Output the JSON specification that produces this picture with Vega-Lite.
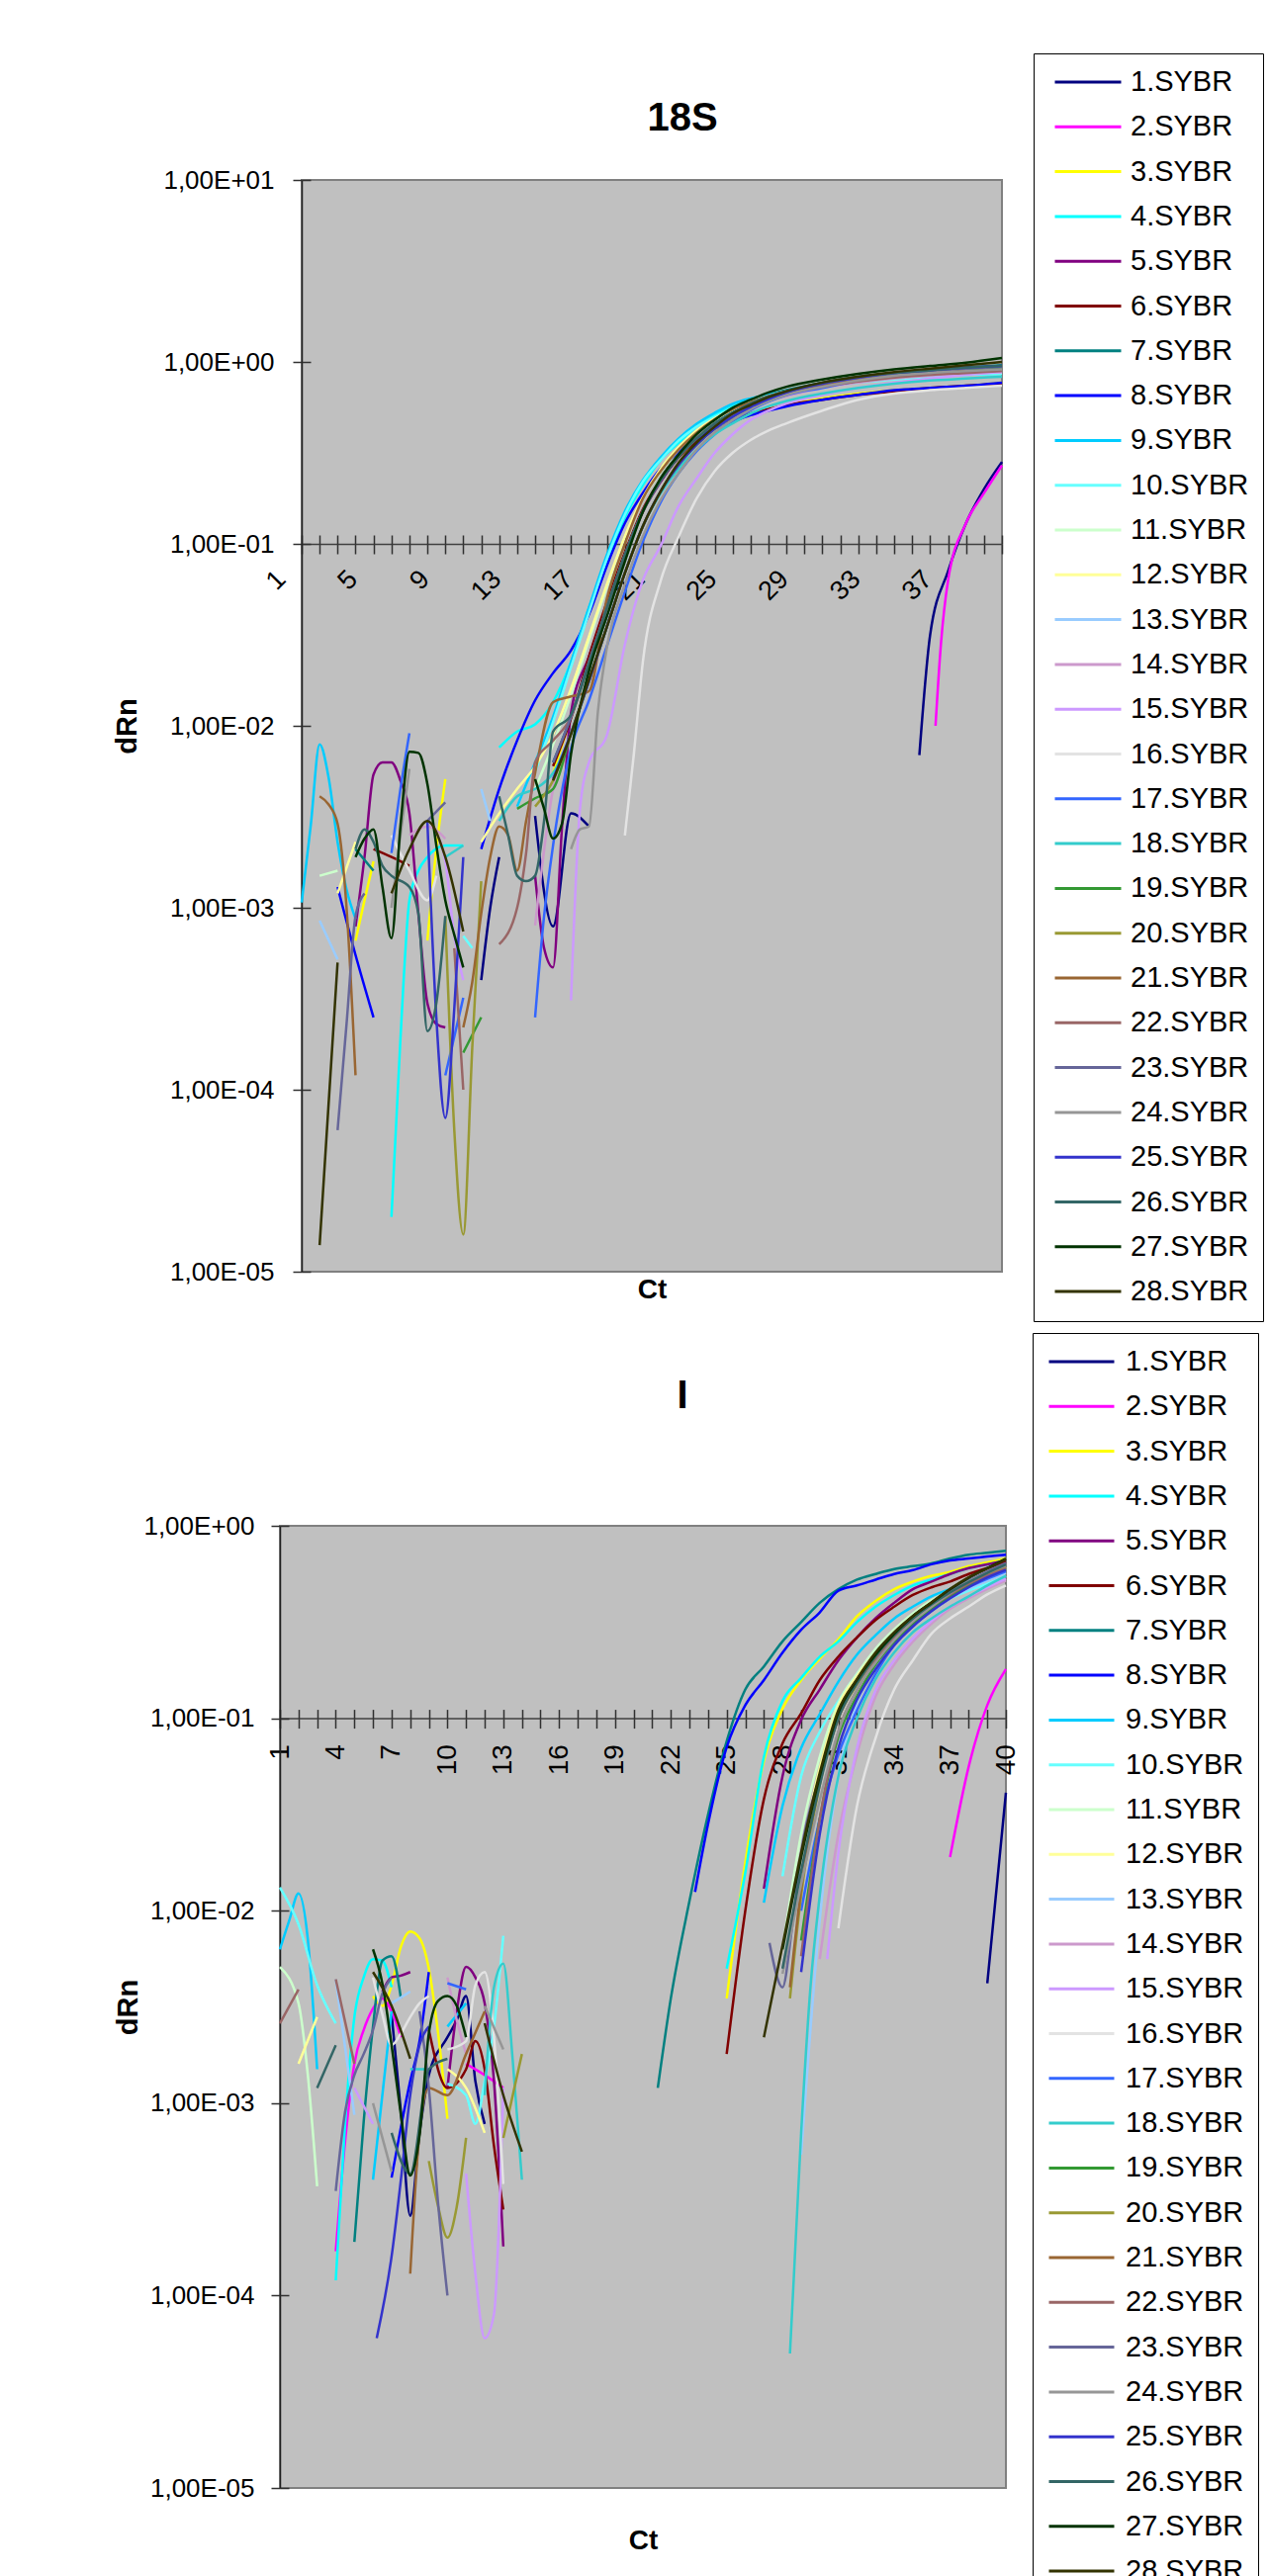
{
"$schema":"https://vega.github.io/schema/vega-lite/v6.json",
"background":"white",
"padding":{"left":113,"top":52,"right":0,"bottom":0},
"datasets":{
"t":[
{"s":1,"c":11,"v":0.0004},{"s":1,"c":11.5,"v":0.001},{"s":1,"c":12,"v":0.0019},{"s":1,"c":13,"v":null},{"s":1,"c":14,"v":0.0032},{"s":1,"c":15,"v":0.00079},{"s":1,"c":16,"v":0.0033},{"s":1,"c":17,"v":0.0028},{"s":1,"c":18,"v":null},{"s":1,"c":35.4,"v":0.0069},{"s":1,"c":36,"v":0.0316},{"s":1,"c":37,"v":0.0708},{"s":1,"c":38,"v":0.13},{"s":1,"c":39,"v":0.2},{"s":1,"c":40,"v":0.282},
{"s":2,"c":36.3,"v":0.01},{"s":2,"c":36.6,"v":0.028},{"s":2,"c":37,"v":0.063},{"s":2,"c":38,"v":0.13},{"s":2,"c":39,"v":0.19},{"s":2,"c":40,"v":0.27},
{"s":3,"c":4,"v":0.00066},{"s":3,"c":4.5,"v":0.0011},{"s":3,"c":5,"v":0.0018},{"s":3,"c":5.5,"v":null},{"s":3,"c":8,"v":0.00066},{"s":3,"c":8.5,"v":0.0021},{"s":3,"c":9,"v":0.0051},{"s":3,"c":9.5,"v":null},{"s":3,"c":15,"v":0.0055},{"s":3,"c":16,"v":0.0112},{"s":3,"c":17,"v":0.0224},{"s":3,"c":18,"v":0.0447},{"s":3,"c":19,"v":0.0871},{"s":3,"c":20,"v":0.151},{"s":3,"c":21,"v":0.224},{"s":3,"c":22,"v":0.3},{"s":3,"c":23,"v":0.37},{"s":3,"c":24,"v":0.43},{"s":3,"c":25,"v":0.48},{"s":3,"c":26,"v":0.52},{"s":3,"c":27,"v":0.55},{"s":3,"c":28,"v":0.58},{"s":3,"c":30,"v":0.63},{"s":3,"c":32,"v":0.67},{"s":3,"c":34,"v":0.7},{"s":3,"c":36,"v":0.72},{"s":3,"c":38,"v":0.74},{"s":3,"c":40,"v":0.77},
{"s":4,"c":6,"v":0.00002},{"s":4,"c":6.5,"v":0.00019},{"s":4,"c":7,"v":0.0011},{"s":4,"c":7.5,"v":0.0016},{"s":4,"c":8,"v":0.0019},{"s":4,"c":9,"v":0.0022},{"s":4,"c":10,"v":0.0022},{"s":4,"c":10.5,"v":null},{"s":4,"c":12,"v":0.0076},{"s":4,"c":13,"v":0.0093},{"s":4,"c":14,"v":0.0102},{"s":4,"c":15,"v":0.0135},{"s":4,"c":16,"v":0.0224},{"s":4,"c":17,"v":0.0447},{"s":4,"c":18,"v":0.08},{"s":4,"c":19,"v":0.14},{"s":4,"c":20,"v":0.21},{"s":4,"c":21,"v":0.29},{"s":4,"c":22,"v":0.36},{"s":4,"c":23,"v":0.44},{"s":4,"c":24,"v":0.51},{"s":4,"c":25,"v":0.57},{"s":4,"c":26,"v":0.62},{"s":4,"c":27,"v":0.66},{"s":4,"c":28,"v":0.69},{"s":4,"c":30,"v":0.74},{"s":4,"c":32,"v":0.78},{"s":4,"c":34,"v":0.81},{"s":4,"c":36,"v":0.83},{"s":4,"c":38,"v":0.85},{"s":4,"c":40,"v":0.86},
{"s":5,"c":4,"v":0.00079},{"s":5,"c":4.5,"v":0.0019},{"s":5,"c":5,"v":0.0054},{"s":5,"c":5.5,"v":0.0063},{"s":5,"c":6,"v":0.0063},{"s":5,"c":6.5,"v":0.005},{"s":5,"c":7,"v":0.0033},{"s":5,"c":7.5,"v":0.00093},{"s":5,"c":8,"v":0.0003},{"s":5,"c":8.5,"v":0.00023},{"s":5,"c":9,"v":0.00022},{"s":5,"c":9.5,"v":null},{"s":5,"c":14,"v":0.0015},{"s":5,"c":14.5,"v":0.0006},{"s":5,"c":15,"v":0.00047},{"s":5,"c":15.5,"v":0.0028},{"s":5,"c":16,"v":0.0118},{"s":5,"c":17,"v":0.024},{"s":5,"c":18,"v":0.045},{"s":5,"c":19,"v":0.085},{"s":5,"c":20,"v":0.15},{"s":5,"c":21,"v":0.22},{"s":5,"c":22,"v":0.3},{"s":5,"c":23,"v":0.38},{"s":5,"c":24,"v":0.45},{"s":5,"c":25,"v":0.52},{"s":5,"c":26,"v":0.58},{"s":5,"c":27,"v":0.63},{"s":5,"c":28,"v":0.67},{"s":5,"c":30,"v":0.73},{"s":5,"c":32,"v":0.78},{"s":5,"c":34,"v":0.82},{"s":5,"c":36,"v":0.85},{"s":5,"c":38,"v":0.87},{"s":5,"c":40,"v":0.89},
{"s":6,"c":5,"v":0.0021},{"s":6,"c":6,"v":0.0019},{"s":6,"c":7,"v":0.0017},{"s":6,"c":7.5,"v":null},{"s":6,"c":15,"v":0.006},{"s":6,"c":16,"v":0.011},{"s":6,"c":17,"v":0.024},{"s":6,"c":18,"v":0.048},{"s":6,"c":19,"v":0.09},{"s":6,"c":20,"v":0.155},{"s":6,"c":21,"v":0.225},{"s":6,"c":22,"v":0.3},{"s":6,"c":23,"v":0.37},{"s":6,"c":24,"v":0.43},{"s":6,"c":25,"v":0.48},{"s":6,"c":26,"v":0.52},{"s":6,"c":27,"v":0.55},{"s":6,"c":28,"v":0.58},{"s":6,"c":30,"v":0.62},{"s":6,"c":32,"v":0.66},{"s":6,"c":34,"v":0.69},{"s":6,"c":36,"v":0.72},{"s":6,"c":38,"v":0.74},{"s":6,"c":40,"v":0.76},
{"s":7,"c":4,"v":0.0021},{"s":7,"c":5,"v":0.0016},{"s":7,"c":5.5,"v":null},{"s":7,"c":15,"v":0.0063},{"s":7,"c":16,"v":0.0112},{"s":7,"c":17,"v":0.0224},{"s":7,"c":18,"v":0.0447},{"s":7,"c":19,"v":0.0871},{"s":7,"c":20,"v":0.151},{"s":7,"c":21,"v":0.224},{"s":7,"c":22,"v":0.302},{"s":7,"c":23,"v":0.38},{"s":7,"c":24,"v":0.46},{"s":7,"c":25,"v":0.53},{"s":7,"c":26,"v":0.6},{"s":7,"c":27,"v":0.66},{"s":7,"c":28,"v":0.7},{"s":7,"c":30,"v":0.77},{"s":7,"c":32,"v":0.83},{"s":7,"c":34,"v":0.87},{"s":7,"c":36,"v":0.9},{"s":7,"c":38,"v":0.93},{"s":7,"c":40,"v":0.96},
{"s":8,"c":3,"v":0.0013},{"s":8,"c":4,"v":0.00055},{"s":8,"c":5,"v":0.00025},{"s":8,"c":5.5,"v":null},{"s":8,"c":11,"v":0.0021},{"s":8,"c":12,"v":0.0045},{"s":8,"c":13,"v":0.0083},{"s":8,"c":14,"v":0.0138},{"s":8,"c":15,"v":0.0195},{"s":8,"c":16,"v":0.026},{"s":8,"c":17,"v":0.041},{"s":8,"c":18,"v":0.076},{"s":8,"c":19,"v":0.13},{"s":8,"c":20,"v":0.19},{"s":8,"c":21,"v":0.26},{"s":8,"c":22,"v":0.32},{"s":8,"c":23,"v":0.38},{"s":8,"c":24,"v":0.43},{"s":8,"c":25,"v":0.47},{"s":8,"c":26,"v":0.51},{"s":8,"c":27,"v":0.54},{"s":8,"c":28,"v":0.57},{"s":8,"c":30,"v":0.62},{"s":8,"c":32,"v":0.66},{"s":8,"c":34,"v":0.7},{"s":8,"c":36,"v":0.72},{"s":8,"c":38,"v":0.74},{"s":8,"c":40,"v":0.77},
{"s":9,"c":1,"v":0.00107},{"s":9,"c":1.5,"v":0.0028},{"s":9,"c":2,"v":0.0079},{"s":9,"c":2.5,"v":0.0052},{"s":9,"c":3,"v":0.0023},{"s":9,"c":3.5,"v":0.00126},{"s":9,"c":4,"v":0.00087},{"s":9,"c":4.5,"v":null},{"s":9,"c":13,"v":0.0036},{"s":9,"c":14,"v":0.0063},{"s":9,"c":15,"v":0.0112},{"s":9,"c":16,"v":0.0224},{"s":9,"c":17,"v":0.0447},{"s":9,"c":18,"v":0.0871},{"s":9,"c":19,"v":0.151},{"s":9,"c":20,"v":0.224},{"s":9,"c":21,"v":0.3},{"s":9,"c":22,"v":0.38},{"s":9,"c":23,"v":0.457},{"s":9,"c":24,"v":0.525},{"s":9,"c":25,"v":0.589},{"s":9,"c":26,"v":0.63},{"s":9,"c":27,"v":0.66},{"s":9,"c":28,"v":0.69},{"s":9,"c":30,"v":0.74},{"s":9,"c":32,"v":0.78},{"s":9,"c":34,"v":0.81},{"s":9,"c":36,"v":0.84},{"s":9,"c":38,"v":0.86},{"s":9,"c":40,"v":0.88},
{"s":10,"c":10,"v":0.0007},{"s":10,"c":10.5,"v":0.0006},{"s":10,"c":11,"v":null},{"s":10,"c":14,"v":0.0056},{"s":10,"c":15,"v":0.0105},{"s":10,"c":16,"v":0.021},{"s":10,"c":17,"v":0.042},{"s":10,"c":18,"v":0.083},{"s":10,"c":19,"v":0.145},{"s":10,"c":20,"v":0.22},{"s":10,"c":21,"v":0.29},{"s":10,"c":22,"v":0.37},{"s":10,"c":23,"v":0.44},{"s":10,"c":24,"v":0.5},{"s":10,"c":25,"v":0.56},{"s":10,"c":26,"v":0.61},{"s":10,"c":27,"v":0.65},{"s":10,"c":28,"v":0.68},{"s":10,"c":30,"v":0.73},{"s":10,"c":32,"v":0.77},{"s":10,"c":34,"v":0.8},{"s":10,"c":36,"v":0.83},{"s":10,"c":38,"v":0.85},{"s":10,"c":40,"v":0.86},
{"s":11,"c":2,"v":0.0015},{"s":11,"c":3,"v":0.0016},{"s":11,"c":3.5,"v":null},{"s":11,"c":14,"v":0.0045},{"s":11,"c":15,"v":0.0079},{"s":11,"c":16,"v":0.0148},{"s":11,"c":17,"v":0.0295},{"s":11,"c":18,"v":0.058},{"s":11,"c":19,"v":0.109},{"s":11,"c":20,"v":0.177},{"s":11,"c":21,"v":0.25},{"s":11,"c":22,"v":0.33},{"s":11,"c":23,"v":0.41},{"s":11,"c":24,"v":0.48},{"s":11,"c":25,"v":0.55},{"s":11,"c":26,"v":0.6},{"s":11,"c":27,"v":0.65},{"s":11,"c":28,"v":0.69},{"s":11,"c":30,"v":0.75},{"s":11,"c":32,"v":0.8},{"s":11,"c":34,"v":0.84},{"s":11,"c":36,"v":0.87},{"s":11,"c":38,"v":0.89},{"s":11,"c":40,"v":0.9},
{"s":12,"c":3,"v":0.0012},{"s":12,"c":4,"v":0.0023},{"s":12,"c":4.5,"v":null},{"s":12,"c":11,"v":0.0023},{"s":12,"c":12,"v":0.0033},{"s":12,"c":13,"v":0.0045},{"s":12,"c":14,"v":0.006},{"s":12,"c":15,"v":0.009},{"s":12,"c":16,"v":0.016},{"s":12,"c":17,"v":0.031},{"s":12,"c":18,"v":0.06},{"s":12,"c":19,"v":0.11},{"s":12,"c":20,"v":0.18},{"s":12,"c":21,"v":0.26},{"s":12,"c":22,"v":0.34},{"s":12,"c":23,"v":0.42},{"s":12,"c":24,"v":0.49},{"s":12,"c":25,"v":0.55},{"s":12,"c":26,"v":0.6},{"s":12,"c":27,"v":0.64},{"s":12,"c":28,"v":0.68},{"s":12,"c":30,"v":0.74},{"s":12,"c":32,"v":0.79},{"s":12,"c":34,"v":0.82},{"s":12,"c":36,"v":0.85},{"s":12,"c":38,"v":0.87},{"s":12,"c":40,"v":0.88},
{"s":13,"c":2,"v":0.00085},{"s":13,"c":3,"v":0.00052},{"s":13,"c":3.5,"v":null},{"s":13,"c":11,"v":0.0045},{"s":13,"c":11.5,"v":0.003},{"s":13,"c":12,"v":null},{"s":13,"c":15,"v":0.005},{"s":13,"c":16,"v":0.0091},{"s":13,"c":17,"v":0.0176},{"s":13,"c":18,"v":0.0351},{"s":13,"c":19,"v":0.069},{"s":13,"c":20,"v":0.125},{"s":13,"c":21,"v":0.195},{"s":13,"c":22,"v":0.27},{"s":13,"c":23,"v":0.35},{"s":13,"c":24,"v":0.43},{"s":13,"c":25,"v":0.5},{"s":13,"c":26,"v":0.565},{"s":13,"c":27,"v":0.625},{"s":13,"c":28,"v":0.67},{"s":13,"c":30,"v":0.74},{"s":13,"c":32,"v":0.8},{"s":13,"c":34,"v":0.84},{"s":13,"c":36,"v":0.87},{"s":13,"c":38,"v":0.9},{"s":13,"c":40,"v":0.92},
{"s":14,"c":7,"v":0.0025},{"s":14,"c":8,"v":0.0028},{"s":14,"c":9,"v":0.0024},{"s":14,"c":9.5,"v":null},{"s":14,"c":14,"v":0.0008},{"s":14,"c":15,"v":0.0045},{"s":14,"c":16,"v":0.009},{"s":14,"c":17,"v":0.0176},{"s":14,"c":18,"v":0.035},{"s":14,"c":19,"v":0.069},{"s":14,"c":20,"v":0.125},{"s":14,"c":21,"v":0.195},{"s":14,"c":22,"v":0.272},{"s":14,"c":23,"v":0.351},{"s":14,"c":24,"v":0.429},{"s":14,"c":25,"v":0.5},{"s":14,"c":26,"v":0.56},{"s":14,"c":27,"v":0.61},{"s":14,"c":28,"v":0.65},{"s":14,"c":30,"v":0.72},{"s":14,"c":32,"v":0.77},{"s":14,"c":34,"v":0.81},{"s":14,"c":36,"v":0.84},{"s":14,"c":38,"v":0.86},{"s":14,"c":40,"v":0.88},
{"s":15,"c":8.5,"v":0.0026},{"s":15,"c":9,"v":0.0018},{"s":15,"c":9.5,"v":0.0007},{"s":15,"c":10,"v":0.0004},{"s":15,"c":10.5,"v":null},{"s":15,"c":16,"v":0.00031},{"s":15,"c":16.5,"v":0.0035},{"s":15,"c":17,"v":0.0063},{"s":15,"c":18,"v":0.0089},{"s":15,"c":19,"v":0.028},{"s":15,"c":20,"v":0.063},{"s":15,"c":21,"v":0.098},{"s":15,"c":22,"v":0.162},{"s":15,"c":23,"v":0.229},{"s":15,"c":24,"v":0.316},{"s":15,"c":25,"v":0.4},{"s":15,"c":26,"v":0.48},{"s":15,"c":27,"v":0.54},{"s":15,"c":28,"v":0.59},{"s":15,"c":30,"v":0.66},{"s":15,"c":32,"v":0.72},{"s":15,"c":34,"v":0.77},{"s":15,"c":36,"v":0.81},{"s":15,"c":38,"v":0.85},{"s":15,"c":40,"v":0.88},
{"s":16,"c":6,"v":0.0025},{"s":16,"c":7,"v":0.0016},{"s":16,"c":8,"v":0.0011},{"s":16,"c":8.5,"v":0.0015},{"s":16,"c":9,"v":null},{"s":16,"c":19,"v":0.0025},{"s":16,"c":19.5,"v":0.007},{"s":16,"c":20,"v":0.0224},{"s":16,"c":21,"v":0.063},{"s":16,"c":22,"v":0.11},{"s":16,"c":23,"v":0.178},{"s":16,"c":24,"v":0.251},{"s":16,"c":25,"v":0.316},{"s":16,"c":26,"v":0.372},{"s":16,"c":27,"v":0.42},{"s":16,"c":28,"v":0.46},{"s":16,"c":30,"v":0.54},{"s":16,"c":32,"v":0.62},{"s":16,"c":34,"v":0.67},{"s":16,"c":36,"v":0.7},{"s":16,"c":38,"v":0.72},{"s":16,"c":40,"v":0.74},
{"s":17,"c":6,"v":0.002},{"s":17,"c":6.5,"v":0.0045},{"s":17,"c":7,"v":0.0091},{"s":17,"c":7.5,"v":null},{"s":17,"c":9,"v":0.00012},{"s":17,"c":10,"v":0.00032},{"s":17,"c":10.5,"v":null},{"s":17,"c":14,"v":0.00025},{"s":17,"c":14.5,"v":0.0009},{"s":17,"c":15,"v":0.0022},{"s":17,"c":16,"v":0.0075},{"s":17,"c":17,"v":0.0138},{"s":17,"c":18,"v":0.0275},{"s":17,"c":19,"v":0.0546},{"s":17,"c":20,"v":0.103},{"s":17,"c":21,"v":0.17},{"s":17,"c":22,"v":0.245},{"s":17,"c":23,"v":0.324},{"s":17,"c":24,"v":0.4},{"s":17,"c":25,"v":0.476},{"s":17,"c":26,"v":0.543},{"s":17,"c":27,"v":0.605},{"s":17,"c":28,"v":0.657},{"s":17,"c":30,"v":0.72},{"s":17,"c":32,"v":0.785},{"s":17,"c":34,"v":0.83},{"s":17,"c":36,"v":0.86},{"s":17,"c":38,"v":0.88},{"s":17,"c":40,"v":0.9},
{"s":18,"c":9,"v":0.0019},{"s":18,"c":10,"v":0.0022},{"s":18,"c":10.5,"v":null},{"s":18,"c":12,"v":0.003},{"s":18,"c":13,"v":0.0041},{"s":18,"c":14,"v":0.0045},{"s":18,"c":15,"v":0.0055},{"s":18,"c":16,"v":0.009},{"s":18,"c":17,"v":0.0176},{"s":18,"c":18,"v":0.035},{"s":18,"c":19,"v":0.069},{"s":18,"c":20,"v":0.125},{"s":18,"c":21,"v":0.19},{"s":18,"c":22,"v":0.26},{"s":18,"c":23,"v":0.33},{"s":18,"c":24,"v":0.4},{"s":18,"c":25,"v":0.46},{"s":18,"c":26,"v":0.52},{"s":18,"c":27,"v":0.57},{"s":18,"c":28,"v":0.61},{"s":18,"c":30,"v":0.67},{"s":18,"c":32,"v":0.72},{"s":18,"c":34,"v":0.76},{"s":18,"c":36,"v":0.79},{"s":18,"c":38,"v":0.81},{"s":18,"c":40,"v":0.83},
{"s":19,"c":10,"v":0.00016},{"s":19,"c":11,"v":0.00025},{"s":19,"c":11.5,"v":null},{"s":19,"c":13,"v":0.0035},{"s":19,"c":14,"v":0.004},{"s":19,"c":15,"v":0.0045},{"s":19,"c":16,"v":0.0091},{"s":19,"c":17,"v":0.0176},{"s":19,"c":18,"v":0.0351},{"s":19,"c":19,"v":0.0692},{"s":19,"c":20,"v":0.125},{"s":19,"c":21,"v":0.195},{"s":19,"c":22,"v":0.272},{"s":19,"c":23,"v":0.351},{"s":19,"c":24,"v":0.429},{"s":19,"c":25,"v":0.5},{"s":19,"c":26,"v":0.565},{"s":19,"c":27,"v":0.625},{"s":19,"c":28,"v":0.67},{"s":19,"c":30,"v":0.74},{"s":19,"c":32,"v":0.8},{"s":19,"c":34,"v":0.85},{"s":19,"c":36,"v":0.88},{"s":19,"c":38,"v":0.91},{"s":19,"c":40,"v":0.93},
{"s":20,"c":9,"v":0.0009},{"s":20,"c":9.5,"v":0.00006},{"s":20,"c":10,"v":0.000016},{"s":20,"c":10.5,"v":0.00017},{"s":20,"c":11,"v":0.0014},{"s":20,"c":11.5,"v":null},{"s":20,"c":14,"v":0.0036},{"s":20,"c":15,"v":0.005},{"s":20,"c":16,"v":0.0091},{"s":20,"c":17,"v":0.0176},{"s":20,"c":18,"v":0.0351},{"s":20,"c":19,"v":0.0692},{"s":20,"c":20,"v":0.125},{"s":20,"c":21,"v":0.195},{"s":20,"c":22,"v":0.272},{"s":20,"c":23,"v":0.351},{"s":20,"c":24,"v":0.429},{"s":20,"c":25,"v":0.5},{"s":20,"c":26,"v":0.565},{"s":20,"c":27,"v":0.625},{"s":20,"c":28,"v":0.67},{"s":20,"c":30,"v":0.74},{"s":20,"c":32,"v":0.79},{"s":20,"c":34,"v":0.83},{"s":20,"c":36,"v":0.86},{"s":20,"c":38,"v":0.88},{"s":20,"c":40,"v":0.9},
{"s":21,"c":2,"v":0.0041},{"s":21,"c":2.5,"v":0.0037},{"s":21,"c":3,"v":0.0029},{"s":21,"c":3.5,"v":0.001},{"s":21,"c":4,"v":0.00012},{"s":21,"c":4.5,"v":null},{"s":21,"c":10,"v":0.00022},{"s":21,"c":10.5,"v":0.00039},{"s":21,"c":11,"v":0.00093},{"s":21,"c":11.5,"v":0.0019},{"s":21,"c":12,"v":0.0028},{"s":21,"c":12.5,"v":0.0025},{"s":21,"c":13,"v":0.0016},{"s":21,"c":13.5,"v":0.003},{"s":21,"c":14,"v":0.0055},{"s":21,"c":15,"v":0.0135},{"s":21,"c":16,"v":0.0145},{"s":21,"c":17,"v":0.0155},{"s":21,"c":18,"v":0.05},{"s":21,"c":19,"v":0.1},{"s":21,"c":20,"v":0.177},{"s":21,"c":21,"v":0.252},{"s":21,"c":22,"v":0.331},{"s":21,"c":23,"v":0.409},{"s":21,"c":24,"v":0.483},{"s":21,"c":25,"v":0.55},{"s":21,"c":26,"v":0.6},{"s":21,"c":27,"v":0.65},{"s":21,"c":28,"v":0.69},{"s":21,"c":30,"v":0.75},{"s":21,"c":32,"v":0.8},{"s":21,"c":34,"v":0.84},{"s":21,"c":36,"v":0.87},{"s":21,"c":38,"v":0.89},{"s":21,"c":40,"v":0.9},
{"s":22,"c":9.5,"v":0.0006},{"s":22,"c":10,"v":0.0001},{"s":22,"c":10.5,"v":null},{"s":22,"c":12,"v":0.00063},{"s":22,"c":13,"v":0.001},{"s":22,"c":13.5,"v":0.002},{"s":22,"c":14,"v":0.0063},{"s":22,"c":15,"v":0.0083},{"s":22,"c":16,"v":0.0112},{"s":22,"c":17,"v":0.0224},{"s":22,"c":18,"v":0.0447},{"s":22,"c":19,"v":0.0871},{"s":22,"c":20,"v":0.151},{"s":22,"c":21,"v":0.224},{"s":22,"c":22,"v":0.302},{"s":22,"c":23,"v":0.38},{"s":22,"c":24,"v":0.457},{"s":22,"c":25,"v":0.52},{"s":22,"c":26,"v":0.58},{"s":22,"c":27,"v":0.63},{"s":22,"c":28,"v":0.67},{"s":22,"c":30,"v":0.73},{"s":22,"c":32,"v":0.78},{"s":22,"c":34,"v":0.82},{"s":22,"c":36,"v":0.85},{"s":22,"c":38,"v":0.87},{"s":22,"c":40,"v":0.89},
{"s":23,"c":3,"v":0.00006},{"s":23,"c":3.5,"v":0.00023},{"s":23,"c":4,"v":0.0009},{"s":23,"c":4.5,"v":0.0012},{"s":23,"c":5,"v":null},{"s":23,"c":8,"v":0.003},{"s":23,"c":9,"v":0.0038},{"s":23,"c":9.5,"v":null},{"s":23,"c":15,"v":0.0063},{"s":23,"c":16,"v":0.0112},{"s":23,"c":17,"v":0.0224},{"s":23,"c":18,"v":0.0447},{"s":23,"c":19,"v":0.0871},{"s":23,"c":20,"v":0.151},{"s":23,"c":21,"v":0.224},{"s":23,"c":22,"v":0.302},{"s":23,"c":23,"v":0.38},{"s":23,"c":24,"v":0.457},{"s":23,"c":25,"v":0.525},{"s":23,"c":26,"v":0.59},{"s":23,"c":27,"v":0.645},{"s":23,"c":28,"v":0.69},{"s":23,"c":30,"v":0.76},{"s":23,"c":32,"v":0.82},{"s":23,"c":34,"v":0.86},{"s":23,"c":36,"v":0.89},{"s":23,"c":38,"v":0.92},{"s":23,"c":40,"v":0.94},
{"s":24,"c":6,"v":0.001},{"s":24,"c":6.5,"v":0.0025},{"s":24,"c":7,"v":0.0058},{"s":24,"c":7.5,"v":null},{"s":24,"c":16,"v":0.0021},{"s":24,"c":16.5,"v":0.0027},{"s":24,"c":17,"v":0.0028},{"s":24,"c":17.5,"v":0.012},{"s":24,"c":18,"v":0.027},{"s":24,"c":19,"v":0.06},{"s":24,"c":20,"v":0.11},{"s":24,"c":21,"v":0.175},{"s":24,"c":22,"v":0.245},{"s":24,"c":23,"v":0.33},{"s":24,"c":24,"v":0.41},{"s":24,"c":25,"v":0.48},{"s":24,"c":26,"v":0.55},{"s":24,"c":27,"v":0.61},{"s":24,"c":28,"v":0.66},{"s":24,"c":30,"v":0.73},{"s":24,"c":32,"v":0.79},{"s":24,"c":34,"v":0.84},{"s":24,"c":36,"v":0.87},{"s":24,"c":38,"v":0.89},{"s":24,"c":40,"v":0.91},
{"s":25,"c":8,"v":0.003},{"s":25,"c":8.5,"v":0.00025},{"s":25,"c":9,"v":0.00007},{"s":25,"c":9.5,"v":0.00028},{"s":25,"c":10,"v":0.0019},{"s":25,"c":10.5,"v":null},{"s":25,"c":15,"v":0.0051},{"s":25,"c":16,"v":0.0091},{"s":25,"c":17,"v":0.0176},{"s":25,"c":18,"v":0.0351},{"s":25,"c":19,"v":0.0692},{"s":25,"c":20,"v":0.125},{"s":25,"c":21,"v":0.195},{"s":25,"c":22,"v":0.272},{"s":25,"c":23,"v":0.351},{"s":25,"c":24,"v":0.429},{"s":25,"c":25,"v":0.5},{"s":25,"c":26,"v":0.565},{"s":25,"c":27,"v":0.625},{"s":25,"c":28,"v":0.68},{"s":25,"c":30,"v":0.76},{"s":25,"c":32,"v":0.82},{"s":25,"c":34,"v":0.87},{"s":25,"c":36,"v":0.9},{"s":25,"c":38,"v":0.93},{"s":25,"c":40,"v":0.95},
{"s":26,"c":4,"v":0.0021},{"s":26,"c":4.5,"v":0.0027},{"s":26,"c":5,"v":0.0023},{"s":26,"c":5.5,"v":0.0017},{"s":26,"c":6,"v":0.0015},{"s":26,"c":7,"v":0.0013},{"s":26,"c":7.5,"v":0.00093},{"s":26,"c":8,"v":0.00021},{"s":26,"c":8.5,"v":0.0003},{"s":26,"c":9,"v":0.0009},{"s":26,"c":9.5,"v":null},{"s":26,"c":12,"v":0.0041},{"s":26,"c":12.5,"v":0.0025},{"s":26,"c":13,"v":0.0015},{"s":26,"c":13.5,"v":0.0014},{"s":26,"c":14,"v":0.0015},{"s":26,"c":14.5,"v":0.003},{"s":26,"c":15,"v":0.0093},{"s":26,"c":16,"v":0.0115},{"s":26,"c":17,"v":0.022},{"s":26,"c":18,"v":0.0447},{"s":26,"c":19,"v":0.0871},{"s":26,"c":20,"v":0.151},{"s":26,"c":21,"v":0.224},{"s":26,"c":22,"v":0.302},{"s":26,"c":23,"v":0.38},{"s":26,"c":24,"v":0.457},{"s":26,"c":25,"v":0.525},{"s":26,"c":26,"v":0.59},{"s":26,"c":27,"v":0.645},{"s":26,"c":28,"v":0.69},{"s":26,"c":30,"v":0.77},{"s":26,"c":32,"v":0.83},{"s":26,"c":34,"v":0.87},{"s":26,"c":36,"v":0.9},{"s":26,"c":38,"v":0.93},{"s":26,"c":40,"v":0.95},
{"s":27,"c":4,"v":0.0019},{"s":27,"c":4.5,"v":0.0024},{"s":27,"c":5,"v":0.0027},{"s":27,"c":5.5,"v":0.0013},{"s":27,"c":6,"v":0.00068},{"s":27,"c":6.5,"v":0.0028},{"s":27,"c":7,"v":0.0072},{"s":27,"c":7.5,"v":0.0071},{"s":27,"c":8,"v":0.0048},{"s":27,"c":8.5,"v":0.0022},{"s":27,"c":9,"v":0.0011},{"s":27,"c":9.5,"v":0.00071},{"s":27,"c":10,"v":0.00047},{"s":27,"c":10.5,"v":null},{"s":27,"c":14,"v":0.0051},{"s":27,"c":14.5,"v":0.0035},{"s":27,"c":15,"v":0.0024},{"s":27,"c":15.5,"v":0.0029},{"s":27,"c":16,"v":0.007},{"s":27,"c":17,"v":0.02},{"s":27,"c":18,"v":0.04},{"s":27,"c":19,"v":0.08},{"s":27,"c":20,"v":0.15},{"s":27,"c":21,"v":0.23},{"s":27,"c":22,"v":0.31},{"s":27,"c":23,"v":0.4},{"s":27,"c":24,"v":0.48},{"s":27,"c":25,"v":0.56},{"s":27,"c":26,"v":0.62},{"s":27,"c":27,"v":0.68},{"s":27,"c":28,"v":0.73},{"s":27,"c":30,"v":0.8},{"s":27,"c":32,"v":0.86},{"s":27,"c":34,"v":0.91},{"s":27,"c":36,"v":0.95},{"s":27,"c":38,"v":0.99},{"s":27,"c":40,"v":1.05},
{"s":28,"c":2,"v":0.000014},{"s":28,"c":3,"v":0.0005},{"s":28,"c":3.5,"v":null},{"s":28,"c":6,"v":0.0012},{"s":28,"c":7,"v":0.0021},{"s":28,"c":8,"v":0.003},{"s":28,"c":9,"v":0.0019},{"s":28,"c":10,"v":0.00074},{"s":28,"c":10.5,"v":null},{"s":28,"c":15,"v":0.005},{"s":28,"c":16,"v":0.009},{"s":28,"c":17,"v":0.018},{"s":28,"c":18,"v":0.035},{"s":28,"c":19,"v":0.069},{"s":28,"c":20,"v":0.125},{"s":28,"c":21,"v":0.195},{"s":28,"c":22,"v":0.28},{"s":28,"c":23,"v":0.36},{"s":28,"c":24,"v":0.44},{"s":28,"c":25,"v":0.52},{"s":28,"c":26,"v":0.58},{"s":28,"c":27,"v":0.64},{"s":28,"c":28,"v":0.69},{"s":28,"c":30,"v":0.77},{"s":28,"c":32,"v":0.83},{"s":28,"c":34,"v":0.88},{"s":28,"c":36,"v":0.92},{"s":28,"c":38,"v":0.96},{"s":28,"c":40,"v":1.0}
],
"b":[
{"s":1,"c":7,"v":0.0029},{"s":1,"c":7.5,"v":0.0009},{"s":1,"c":8,"v":0.00026},{"s":1,"c":8.5,"v":0.0007},{"s":1,"c":9,"v":0.0014},{"s":1,"c":10,"v":0.0022},{"s":1,"c":10.5,"v":0.0027},{"s":1,"c":11,"v":0.0036},{"s":1,"c":11.5,"v":0.0013},{"s":1,"c":12,"v":0.00078},{"s":1,"c":12.5,"v":null},{"s":1,"c":39,"v":0.0042},{"s":1,"c":40,"v":0.041},
{"s":2,"c":4,"v":0.00017},{"s":2,"c":4.5,"v":0.00063},{"s":2,"c":5,"v":0.0016},{"s":2,"c":5.5,"v":0.0024},{"s":2,"c":6,"v":0.0031},{"s":2,"c":6.5,"v":0.0035},{"s":2,"c":7,"v":0.003},{"s":2,"c":7.5,"v":0.0022},{"s":2,"c":8,"v":null},{"s":2,"c":11,"v":0.0016},{"s":2,"c":12,"v":0.0014},{"s":2,"c":13,"v":0.0012},{"s":2,"c":13.5,"v":null},{"s":2,"c":37,"v":0.019},{"s":2,"c":38,"v":0.056},{"s":2,"c":39,"v":0.117},{"s":2,"c":40,"v":0.18},
{"s":3,"c":6,"v":0.0036},{"s":3,"c":6.5,"v":0.0032},{"s":3,"c":7,"v":0.0041},{"s":3,"c":7.5,"v":0.0065},{"s":3,"c":8,"v":0.0078},{"s":3,"c":8.5,"v":0.0072},{"s":3,"c":9,"v":0.005},{"s":3,"c":9.5,"v":0.0023},{"s":3,"c":10,"v":0.00083},{"s":3,"c":10.5,"v":null},{"s":3,"c":25,"v":0.0035},{"s":3,"c":26,"v":0.0178},{"s":3,"c":27,"v":0.06},{"s":3,"c":28,"v":0.112},{"s":3,"c":29,"v":0.158},{"s":3,"c":30,"v":0.204},{"s":3,"c":31,"v":0.257},{"s":3,"c":32,"v":0.339},{"s":3,"c":33,"v":0.407},{"s":3,"c":34,"v":0.468},{"s":3,"c":35,"v":0.513},{"s":3,"c":36,"v":0.55},{"s":3,"c":37,"v":0.575},{"s":3,"c":38,"v":0.617},{"s":3,"c":39,"v":0.646},{"s":3,"c":40,"v":0.676},
{"s":4,"c":4,"v":0.00012},{"s":4,"c":4.5,"v":0.00078},{"s":4,"c":5,"v":0.0028},{"s":4,"c":5.5,"v":0.0045},{"s":4,"c":6,"v":0.0056},{"s":4,"c":6.5,"v":0.0055},{"s":4,"c":7,"v":0.004},{"s":4,"c":7.5,"v":null},{"s":4,"c":25,"v":0.005},{"s":4,"c":26,"v":0.0158},{"s":4,"c":27,"v":0.063},{"s":4,"c":28,"v":0.123},{"s":4,"c":29,"v":0.162},{"s":4,"c":30,"v":0.209},{"s":4,"c":31,"v":0.251},{"s":4,"c":32,"v":0.316},{"s":4,"c":33,"v":0.38},{"s":4,"c":34,"v":0.437},{"s":4,"c":35,"v":0.49},{"s":4,"c":36,"v":0.525},{"s":4,"c":37,"v":0.562},{"s":4,"c":38,"v":0.603},{"s":4,"c":39,"v":0.631},{"s":4,"c":40,"v":0.661},
{"s":5,"c":6.5,"v":0.0038},{"s":5,"c":7,"v":0.0045},{"s":5,"c":7.5,"v":0.0046},{"s":5,"c":8,"v":0.0048},{"s":5,"c":8.5,"v":null},{"s":5,"c":10,"v":0.0012},{"s":5,"c":10.5,"v":0.003},{"s":5,"c":11,"v":0.0051},{"s":5,"c":11.5,"v":0.0045},{"s":5,"c":12,"v":0.0033},{"s":5,"c":12.5,"v":0.0013},{"s":5,"c":13,"v":0.00018},{"s":5,"c":13.5,"v":null},{"s":5,"c":27,"v":0.013},{"s":5,"c":28,"v":0.05},{"s":5,"c":29,"v":0.098},{"s":5,"c":30,"v":0.141},{"s":5,"c":31,"v":0.2},{"s":5,"c":32,"v":0.263},{"s":5,"c":33,"v":0.331},{"s":5,"c":34,"v":0.398},{"s":5,"c":35,"v":0.468},{"s":5,"c":36,"v":0.513},{"s":5,"c":37,"v":0.562},{"s":5,"c":38,"v":0.603},{"s":5,"c":39,"v":0.631},{"s":5,"c":40,"v":0.661},
{"s":6,"c":9,"v":0.0024},{"s":6,"c":10,"v":0.0012},{"s":6,"c":11,"v":0.0015},{"s":6,"c":11.5,"v":0.0021},{"s":6,"c":12,"v":0.0015},{"s":6,"c":12.5,"v":0.0006},{"s":6,"c":13,"v":0.00028},{"s":6,"c":13.5,"v":null},{"s":6,"c":25,"v":0.0018},{"s":6,"c":26,"v":0.01},{"s":6,"c":27,"v":0.038},{"s":6,"c":28,"v":0.074},{"s":6,"c":29,"v":0.106},{"s":6,"c":30,"v":0.158},{"s":6,"c":31,"v":0.209},{"s":6,"c":32,"v":0.263},{"s":6,"c":33,"v":0.324},{"s":6,"c":34,"v":0.38},{"s":6,"c":35,"v":0.437},{"s":6,"c":36,"v":0.479},{"s":6,"c":37,"v":0.513},{"s":6,"c":38,"v":0.562},{"s":6,"c":39,"v":0.603},{"s":6,"c":40,"v":0.653},
{"s":7,"c":5,"v":0.00019},{"s":7,"c":5.5,"v":0.0008},{"s":7,"c":6,"v":0.0025},{"s":7,"c":6.5,"v":0.0055},{"s":7,"c":7,"v":0.0058},{"s":7,"c":7.5,"v":0.0035},{"s":7,"c":8,"v":null},{"s":7,"c":21.3,"v":0.0012},{"s":7,"c":22,"v":0.0035},{"s":7,"c":23,"v":0.0112},{"s":7,"c":24,"v":0.0316},{"s":7,"c":25,"v":0.0759},{"s":7,"c":26,"v":0.141},{"s":7,"c":27,"v":0.186},{"s":7,"c":28,"v":0.251},{"s":7,"c":29,"v":0.316},{"s":7,"c":30,"v":0.398},{"s":7,"c":31,"v":0.468},{"s":7,"c":32,"v":0.525},{"s":7,"c":33,"v":0.562},{"s":7,"c":34,"v":0.596},{"s":7,"c":35,"v":0.617},{"s":7,"c":36,"v":0.638},{"s":7,"c":37,"v":0.676},{"s":7,"c":38,"v":0.708},{"s":7,"c":39,"v":0.724},{"s":7,"c":40,"v":0.741},
{"s":8,"c":7,"v":0.00041},{"s":8,"c":7.5,"v":0.00075},{"s":8,"c":8,"v":0.0013},{"s":8,"c":8.5,"v":0.0021},{"s":8,"c":9,"v":0.0048},{"s":8,"c":9.5,"v":null},{"s":8,"c":23.3,"v":0.0125},{"s":8,"c":24,"v":0.0282},{"s":8,"c":25,"v":0.0708},{"s":8,"c":26,"v":0.117},{"s":8,"c":27,"v":0.158},{"s":8,"c":28,"v":0.219},{"s":8,"c":29,"v":0.288},{"s":8,"c":30,"v":0.355},{"s":8,"c":31,"v":0.46},{"s":8,"c":32,"v":0.49},{"s":8,"c":33,"v":0.525},{"s":8,"c":34,"v":0.562},{"s":8,"c":35,"v":0.589},{"s":8,"c":36,"v":0.631},{"s":8,"c":37,"v":0.661},{"s":8,"c":38,"v":0.676},{"s":8,"c":39,"v":0.692},{"s":8,"c":40,"v":0.708},
{"s":9,"c":1,"v":0.0063},{"s":9,"c":1.5,"v":0.0089},{"s":9,"c":2,"v":0.0123},{"s":9,"c":2.5,"v":0.0071},{"s":9,"c":3,"v":0.0015},{"s":9,"c":3.5,"v":null},{"s":9,"c":6,"v":0.0004},{"s":9,"c":7,"v":0.003},{"s":9,"c":7.5,"v":null},{"s":9,"c":10,"v":0.0025},{"s":9,"c":11,"v":0.0033},{"s":9,"c":11.5,"v":null},{"s":9,"c":27,"v":0.011},{"s":9,"c":28,"v":0.035},{"s":9,"c":29,"v":0.07},{"s":9,"c":30,"v":0.105},{"s":9,"c":31,"v":0.155},{"s":9,"c":32,"v":0.214},{"s":9,"c":33,"v":0.27},{"s":9,"c":34,"v":0.33},{"s":9,"c":35,"v":0.38},{"s":9,"c":36,"v":0.43},{"s":9,"c":37,"v":0.47},{"s":9,"c":38,"v":0.52},{"s":9,"c":39,"v":0.56},{"s":9,"c":40,"v":0.6},
{"s":10,"c":1,"v":0.0132},{"s":10,"c":2,"v":0.0085},{"s":10,"c":3,"v":0.0041},{"s":10,"c":4,"v":0.0026},{"s":10,"c":4.5,"v":null},{"s":10,"c":10,"v":0.00126},{"s":10,"c":11,"v":0.0011},{"s":10,"c":11.5,"v":0.00078},{"s":10,"c":12,"v":0.0013},{"s":10,"c":12.5,"v":0.0025},{"s":10,"c":13,"v":0.0074},{"s":10,"c":13.5,"v":null},{"s":10,"c":28,"v":0.0151},{"s":10,"c":29,"v":0.05},{"s":10,"c":30,"v":0.085},{"s":10,"c":31,"v":0.123},{"s":10,"c":32,"v":0.17},{"s":10,"c":33,"v":0.224},{"s":10,"c":34,"v":0.282},{"s":10,"c":35,"v":0.331},{"s":10,"c":36,"v":0.38},{"s":10,"c":37,"v":0.42},{"s":10,"c":38,"v":0.46},{"s":10,"c":39,"v":0.5},{"s":10,"c":40,"v":0.55},
{"s":11,"c":1,"v":0.0051},{"s":11,"c":2,"v":0.0033},{"s":11,"c":2.5,"v":0.0014},{"s":11,"c":3,"v":0.00037},{"s":11,"c":3.5,"v":null},{"s":11,"c":28,"v":0.0063},{"s":11,"c":29,"v":0.025},{"s":11,"c":30,"v":0.063},{"s":11,"c":31,"v":0.12},{"s":11,"c":32,"v":0.17},{"s":11,"c":33,"v":0.23},{"s":11,"c":34,"v":0.29},{"s":11,"c":35,"v":0.35},{"s":11,"c":36,"v":0.41},{"s":11,"c":37,"v":0.46},{"s":11,"c":38,"v":0.51},{"s":11,"c":39,"v":0.56},{"s":11,"c":40,"v":0.6},
{"s":12,"c":2,"v":0.0016},{"s":12,"c":3,"v":0.0028},{"s":12,"c":3.5,"v":null},{"s":12,"c":10,"v":0.0015},{"s":12,"c":11,"v":0.0012},{"s":12,"c":12,"v":0.0007},{"s":12,"c":12.5,"v":null},{"s":12,"c":29,"v":0.02},{"s":12,"c":30,"v":0.055},{"s":12,"c":31,"v":0.115},{"s":12,"c":32,"v":0.165},{"s":12,"c":33,"v":0.22},{"s":12,"c":34,"v":0.28},{"s":12,"c":35,"v":0.34},{"s":12,"c":36,"v":0.4},{"s":12,"c":37,"v":0.45},{"s":12,"c":38,"v":0.51},{"s":12,"c":39,"v":0.56},{"s":12,"c":40,"v":0.61},
{"s":13,"c":4,"v":0.0044},{"s":13,"c":5,"v":0.00087},{"s":13,"c":5.5,"v":null},{"s":13,"c":7,"v":0.0033},{"s":13,"c":8,"v":0.0038},{"s":13,"c":8.5,"v":null},{"s":13,"c":29,"v":0.00054},{"s":13,"c":30,"v":0.009},{"s":13,"c":31,"v":0.05},{"s":13,"c":32,"v":0.12},{"s":13,"c":33,"v":0.18},{"s":13,"c":34,"v":0.24},{"s":13,"c":35,"v":0.3},{"s":13,"c":36,"v":0.36},{"s":13,"c":37,"v":0.42},{"s":13,"c":38,"v":0.47},{"s":13,"c":39,"v":0.52},{"s":13,"c":40,"v":0.57},
{"s":14,"c":10,"v":0.0045},{"s":14,"c":10.5,"v":0.0027},{"s":14,"c":11,"v":0.0018},{"s":14,"c":11.5,"v":null},{"s":14,"c":30,"v":0.0056},{"s":14,"c":31,"v":0.025},{"s":14,"c":32,"v":0.065},{"s":14,"c":33,"v":0.13},{"s":14,"c":34,"v":0.19},{"s":14,"c":35,"v":0.25},{"s":14,"c":36,"v":0.31},{"s":14,"c":37,"v":0.37},{"s":14,"c":38,"v":0.42},{"s":14,"c":39,"v":0.47},{"s":14,"c":40,"v":0.52},
{"s":15,"c":5,"v":0.0012},{"s":15,"c":6,"v":0.00078},{"s":15,"c":6.5,"v":null},{"s":15,"c":11,"v":0.00043},{"s":15,"c":11.5,"v":0.00013},{"s":15,"c":12,"v":0.00006},{"s":15,"c":12.5,"v":0.00008},{"s":15,"c":13,"v":0.0012},{"s":15,"c":13.5,"v":null},{"s":15,"c":30.4,"v":0.0056},{"s":15,"c":31,"v":0.02},{"s":15,"c":32,"v":0.07},{"s":15,"c":33,"v":0.14},{"s":15,"c":34,"v":0.2},{"s":15,"c":35,"v":0.26},{"s":15,"c":36,"v":0.32},{"s":15,"c":37,"v":0.38},{"s":15,"c":38,"v":0.43},{"s":15,"c":39,"v":0.48},{"s":15,"c":40,"v":0.53},
{"s":16,"c":6,"v":0.0045},{"s":16,"c":6.5,"v":0.0029},{"s":16,"c":7,"v":0.002},{"s":16,"c":7.5,"v":0.0023},{"s":16,"c":8,"v":0.0028},{"s":16,"c":8.5,"v":0.0033},{"s":16,"c":9,"v":0.0036},{"s":16,"c":9.5,"v":null},{"s":16,"c":10,"v":0.0019},{"s":16,"c":11,"v":0.0021},{"s":16,"c":11.5,"v":0.0041},{"s":16,"c":12,"v":0.0048},{"s":16,"c":12.5,"v":0.0022},{"s":16,"c":13,"v":0.00038},{"s":16,"c":13.5,"v":null},{"s":16,"c":31,"v":0.0081},{"s":16,"c":32,"v":0.035},{"s":16,"c":33,"v":0.079},{"s":16,"c":34,"v":0.141},{"s":16,"c":35,"v":0.2},{"s":16,"c":36,"v":0.275},{"s":16,"c":37,"v":0.33},{"s":16,"c":38,"v":0.38},{"s":16,"c":39,"v":0.44},{"s":16,"c":40,"v":0.49},
{"s":17,"c":10,"v":0.0042},{"s":17,"c":11,"v":0.0039},{"s":17,"c":11.5,"v":null},{"s":17,"c":29,"v":0.01},{"s":17,"c":30,"v":0.03},{"s":17,"c":31,"v":0.065},{"s":17,"c":32,"v":0.11},{"s":17,"c":33,"v":0.17},{"s":17,"c":34,"v":0.24},{"s":17,"c":35,"v":0.3},{"s":17,"c":36,"v":0.36},{"s":17,"c":37,"v":0.42},{"s":17,"c":38,"v":0.48},{"s":17,"c":39,"v":0.53},{"s":17,"c":40,"v":0.58},
{"s":18,"c":8,"v":0.0015},{"s":18,"c":9,"v":0.0015},{"s":18,"c":9.5,"v":null},{"s":18,"c":12,"v":0.0011},{"s":18,"c":12.5,"v":0.004},{"s":18,"c":13,"v":0.0053},{"s":18,"c":13.5,"v":0.0017},{"s":18,"c":14,"v":0.0004},{"s":18,"c":14.5,"v":null},{"s":18,"c":28.4,"v":0.00005},{"s":18,"c":29,"v":0.0007},{"s":18,"c":29.5,"v":0.004},{"s":18,"c":30,"v":0.012},{"s":18,"c":31,"v":0.05},{"s":18,"c":32,"v":0.1},{"s":18,"c":33,"v":0.16},{"s":18,"c":34,"v":0.22},{"s":18,"c":35,"v":0.28},{"s":18,"c":36,"v":0.33},{"s":18,"c":37,"v":0.38},{"s":18,"c":38,"v":0.43},{"s":18,"c":39,"v":0.49},{"s":18,"c":40,"v":0.55},
{"s":19,"c":29,"v":0.007},{"s":19,"c":30,"v":0.03},{"s":19,"c":31,"v":0.08},{"s":19,"c":32,"v":0.13},{"s":19,"c":33,"v":0.19},{"s":19,"c":34,"v":0.25},{"s":19,"c":35,"v":0.31},{"s":19,"c":36,"v":0.37},{"s":19,"c":37,"v":0.43},{"s":19,"c":38,"v":0.49},{"s":19,"c":39,"v":0.55},{"s":19,"c":40,"v":0.6},
{"s":20,"c":9,"v":0.0005},{"s":20,"c":9.5,"v":0.00029},{"s":20,"c":10,"v":0.0002},{"s":20,"c":10.5,"v":0.00029},{"s":20,"c":11,"v":0.00066},{"s":20,"c":11.5,"v":null},{"s":20,"c":13,"v":0.00066},{"s":20,"c":14,"v":0.0018},{"s":20,"c":14.5,"v":null},{"s":20,"c":28.4,"v":0.0035},{"s":20,"c":29,"v":0.012},{"s":20,"c":30,"v":0.045},{"s":20,"c":31,"v":0.1},{"s":20,"c":32,"v":0.15},{"s":20,"c":33,"v":0.21},{"s":20,"c":34,"v":0.27},{"s":20,"c":35,"v":0.33},{"s":20,"c":36,"v":0.39},{"s":20,"c":37,"v":0.45},{"s":20,"c":38,"v":0.51},{"s":20,"c":39,"v":0.56},{"s":20,"c":40,"v":0.61},
{"s":21,"c":8,"v":0.00013},{"s":21,"c":8.5,"v":0.0007},{"s":21,"c":9,"v":0.0012},{"s":21,"c":10,"v":0.0011},{"s":21,"c":11,"v":0.0018},{"s":21,"c":12,"v":0.003},{"s":21,"c":12.5,"v":null},{"s":21,"c":28.4,"v":0.004},{"s":21,"c":29,"v":0.013},{"s":21,"c":30,"v":0.047},{"s":21,"c":31,"v":0.1},{"s":21,"c":32,"v":0.155},{"s":21,"c":33,"v":0.215},{"s":21,"c":34,"v":0.275},{"s":21,"c":35,"v":0.335},{"s":21,"c":36,"v":0.395},{"s":21,"c":37,"v":0.455},{"s":21,"c":38,"v":0.515},{"s":21,"c":39,"v":0.57},{"s":21,"c":40,"v":0.62},
{"s":22,"c":1,"v":0.0026},{"s":22,"c":2,"v":0.0039},{"s":22,"c":2.5,"v":null},{"s":22,"c":4,"v":0.0044},{"s":22,"c":5,"v":0.0016},{"s":22,"c":5.5,"v":null},{"s":22,"c":29,"v":0.0058},{"s":22,"c":30,"v":0.03},{"s":22,"c":31,"v":0.085},{"s":22,"c":32,"v":0.14},{"s":22,"c":33,"v":0.2},{"s":22,"c":34,"v":0.26},{"s":22,"c":35,"v":0.32},{"s":22,"c":36,"v":0.38},{"s":22,"c":37,"v":0.44},{"s":22,"c":38,"v":0.5},{"s":22,"c":39,"v":0.55},{"s":22,"c":40,"v":0.6},
{"s":23,"c":4,"v":0.00035},{"s":23,"c":4.5,"v":0.0009},{"s":23,"c":5,"v":0.0014},{"s":23,"c":5.5,"v":0.0018},{"s":23,"c":6,"v":0.0024},{"s":23,"c":6.5,"v":0.0037},{"s":23,"c":7,"v":0.0045},{"s":23,"c":7.5,"v":null},{"s":23,"c":8.5,"v":0.003},{"s":23,"c":9,"v":0.0012},{"s":23,"c":9.5,"v":0.0003},{"s":23,"c":10,"v":0.0001},{"s":23,"c":10.5,"v":null},{"s":23,"c":27.3,"v":0.0068},{"s":23,"c":28,"v":0.004},{"s":23,"c":28.5,"v":0.008},{"s":23,"c":29,"v":0.02},{"s":23,"c":30,"v":0.05},{"s":23,"c":31,"v":0.105},{"s":23,"c":32,"v":0.158},{"s":23,"c":33,"v":0.214},{"s":23,"c":34,"v":0.275},{"s":23,"c":35,"v":0.339},{"s":23,"c":36,"v":0.398},{"s":23,"c":37,"v":0.46},{"s":23,"c":38,"v":0.52},{"s":23,"c":39,"v":0.58},{"s":23,"c":40,"v":0.64},
{"s":24,"c":6,"v":0.001},{"s":24,"c":7,"v":0.00044},{"s":24,"c":7.5,"v":null},{"s":24,"c":12,"v":0.0032},{"s":24,"c":13,"v":0.0019},{"s":24,"c":13.5,"v":null},{"s":24,"c":28,"v":0.0047},{"s":24,"c":29,"v":0.0137},{"s":24,"c":30,"v":0.0375},{"s":24,"c":31,"v":0.0853},{"s":24,"c":32,"v":0.141},{"s":24,"c":33,"v":0.195},{"s":24,"c":34,"v":0.255},{"s":24,"c":35,"v":0.318},{"s":24,"c":36,"v":0.379},{"s":24,"c":37,"v":0.446},{"s":24,"c":38,"v":0.515},{"s":24,"c":39,"v":0.57},{"s":24,"c":40,"v":0.62},
{"s":25,"c":6.2,"v":0.00006},{"s":25,"c":7,"v":0.00016},{"s":25,"c":7.5,"v":0.0004},{"s":25,"c":8,"v":0.0011},{"s":25,"c":8.5,"v":0.002},{"s":25,"c":9,"v":0.0025},{"s":25,"c":9.5,"v":null},{"s":25,"c":29,"v":0.0048},{"s":25,"c":30,"v":0.025},{"s":25,"c":31,"v":0.07},{"s":25,"c":32,"v":0.125},{"s":25,"c":33,"v":0.18},{"s":25,"c":34,"v":0.24},{"s":25,"c":35,"v":0.3},{"s":25,"c":36,"v":0.36},{"s":25,"c":37,"v":0.42},{"s":25,"c":38,"v":0.48},{"s":25,"c":39,"v":0.54},{"s":25,"c":40,"v":0.59},
{"s":26,"c":3,"v":0.0012},{"s":26,"c":4,"v":0.002},{"s":26,"c":4.5,"v":null},{"s":26,"c":7,"v":0.0007},{"s":26,"c":8,"v":0.00043},{"s":26,"c":9,"v":0.0015},{"s":26,"c":10,"v":0.0017},{"s":26,"c":10.5,"v":null},{"s":26,"c":28,"v":0.005},{"s":26,"c":29,"v":0.016},{"s":26,"c":30,"v":0.045},{"s":26,"c":31,"v":0.1},{"s":26,"c":32,"v":0.152},{"s":26,"c":33,"v":0.21},{"s":26,"c":34,"v":0.27},{"s":26,"c":35,"v":0.33},{"s":26,"c":36,"v":0.39},{"s":26,"c":37,"v":0.45},{"s":26,"c":38,"v":0.51},{"s":26,"c":39,"v":0.57},{"s":26,"c":40,"v":0.63},
{"s":27,"c":6,"v":0.0063},{"s":27,"c":6.5,"v":0.0042},{"s":27,"c":7,"v":0.002},{"s":27,"c":7.5,"v":0.00087},{"s":27,"c":8,"v":0.00042},{"s":27,"c":8.5,"v":0.00068},{"s":27,"c":9,"v":0.0023},{"s":27,"c":9.5,"v":0.0034},{"s":27,"c":10,"v":0.0036},{"s":27,"c":10.5,"v":0.0032},{"s":27,"c":11,"v":0.0022},{"s":27,"c":11.5,"v":null},{"s":27,"c":28,"v":0.0063},{"s":27,"c":29,"v":0.019},{"s":27,"c":30,"v":0.05},{"s":27,"c":31,"v":0.107},{"s":27,"c":32,"v":0.158},{"s":27,"c":33,"v":0.214},{"s":27,"c":34,"v":0.275},{"s":27,"c":35,"v":0.339},{"s":27,"c":36,"v":0.398},{"s":27,"c":37,"v":0.468},{"s":27,"c":38,"v":0.537},{"s":27,"c":39,"v":0.603},{"s":27,"c":40,"v":0.676},
{"s":28,"c":6,"v":0.0048},{"s":28,"c":7,"v":0.0032},{"s":28,"c":8,"v":0.0017},{"s":28,"c":8.5,"v":null},{"s":28,"c":12,"v":0.0026},{"s":28,"c":13,"v":0.0011},{"s":28,"c":14,"v":0.00056},{"s":28,"c":14.5,"v":null},{"s":28,"c":27,"v":0.0022},{"s":28,"c":28,"v":0.0066},{"s":28,"c":29,"v":0.02},{"s":28,"c":30,"v":0.052},{"s":28,"c":31,"v":0.11},{"s":28,"c":32,"v":0.16},{"s":28,"c":33,"v":0.22},{"s":28,"c":34,"v":0.28},{"s":28,"c":35,"v":0.34},{"s":28,"c":36,"v":0.4},{"s":28,"c":37,"v":0.47},{"s":28,"c":38,"v":0.54},{"s":28,"c":39,"v":0.6},{"s":28,"c":40,"v":0.67}
]
},
"vconcat":[
{
"hconcat":[
{"width":22,"height":1,"data":{"values":[]},"mark":"point","view":{"fill":null,"stroke":null}},
{
"width":708,"height":1104,
"title":{"text":"18S","fontSize":40,"fontWeight":"bold","font":"Liberation Sans","color":"#000","frame":"group","anchor":"middle","dx":31,"offset":-86.5},
"data":{"name":"t"},
"layer":[
{"mark":{"type":"line","strokeWidth":2.5,"interpolate":"monotone","invalid":"break-paths-filter-domains"},
"encoding":{
"x":{"field":"c","type":"quantitative","scale":{"domain":[1,40],"nice":false,"zero":false},
"axis":{"orient":"bottom","offset":-736,"values":[1,2,3,4,5,6,7,8,9,10,11,12,13,14,15,16,17,18,19,20,21,22,23,24,25,26,27,28,29,30,31,32,33,34,35,36,37,38,39,40],"labelExpr":"(datum.value - 1) % 4 == 0 ? toString(datum.value) : ''","labelAngle":-45,"labelFontSize":27,"labelColor":"#000","labelOverlap":false,"labelFlush":false,"labelPadding":12,"labelOffset":-30,"tickSize":10,"tickColor":"#303030","tickWidth":1.5,"domainColor":"#404040","domainWidth":1.5,"grid":false,"title":"Ct","titleFontSize":28,"titleFontWeight":"bold","titleColor":"#000","titleBaseline":"middle","titleY":754}},
"y":{"field":"v","type":"quantitative","scale":{"type":"log","domain":[0.00001,10],"nice":false},
"axis":{"orient":"left","values":[10,1,0.1,0.01,0.001,0.0001,0.00001],"labelExpr":"'1,00E' + (datum.value >= 1 ? '+' : '-') + '0' + abs(round(log(datum.value) / LN10))","labelFontSize":26,"labelColor":"#000","labelPadding":19,"tickSize":9,"tickColor":"#303030","tickWidth":1.5,"domainColor":"#202020","domainWidth":1.5,"grid":false,"title":"dRn","titleFontSize":29,"titleFontWeight":"bold","titleColor":"#000","titleBaseline":"middle","titleX":-177}},
"color":{"field":"s","type":"nominal","scale":{"domain":[1,2,3,4,5,6,7,8,9,10,11,12,13,14,15,16,17,18,19,20,21,22,23,24,25,26,27,28],"range":["#000080","#FF00FF","#FFFF00","#00FFFF","#800080","#800000","#008080","#0000FF","#00CCFF","#66FFFF","#CCFFCC","#FFFF99","#99CCFF","#CC99CC","#CC99FF","#E3E3E3","#3366FF","#33CCCC","#339933","#999933","#996633","#996666","#666699","#969696","#3333CC","#336666","#003300","#333300"]},
"legend":{"orient":"none","legendX":740,"legendY":-128,"direction":"vertical","title":null,"symbolType":"stroke","symbolSize":4489,"symbolStrokeWidth":3,"symbolOffset":6,"clipHeight":30,"rowPadding":15.3,"padding":14,"labelOffset":8,"labelFontSize":29,"labelColor":"#000","labelExpr":"datum.label + '.SYBR'","strokeColor":"#000","labelLimit":300}}
}},
{"mark":{"type":"point","opacity":0},
"encoding":{
"x":{"field":"c","type":"quantitative","axis":{"orient":"top","offset":-368,"values":[1,2,3,4,5,6,7,8,9,10,11,12,13,14,15,16,17,18,19,20,21,22,23,24,25,26,27,28,29,30,31,32,33,34,35,36,37,38,39,40],"labels":false,"domain":false,"tickSize":9,"tickColor":"#303030","tickWidth":1.5,"grid":false,"title":null}},
"y":{"field":"v","type":"quantitative","axis":{"orient":"right","offset":-708,"values":[10,1,0.1,0.01,0.001,0.0001,0.00001],"labels":false,"domain":false,"tickSize":9,"tickColor":"#303030","tickWidth":1.5,"grid":false,"title":null}}
}}
],
"resolve":{"axis":{"x":"independent","y":"independent"}}
}
],
"spacing":0,
"bounds":"flush",
"resolve":{"legend":{"color":"independent"}}
},
{
"width":734,"height":973,
"title":{"text":"I","fontSize":40,"fontWeight":"bold","font":"Liberation Sans","color":"#000","frame":"group","anchor":"middle","dx":40,"offset":-84.5},
"data":{"name":"b"},
"layer":[
{"mark":{"type":"line","strokeWidth":2.5,"interpolate":"monotone","invalid":"break-paths-filter-domains"},
"encoding":{
"x":{"field":"c","type":"quantitative","scale":{"domain":[1,40],"nice":false,"zero":false},
"axis":{"orient":"bottom","offset":-778.4,"values":[1,2,3,4,5,6,7,8,9,10,11,12,13,14,15,16,17,18,19,20,21,22,23,24,25,26,27,28,29,30,31,32,33,34,35,36,37,38,39,40],"labelExpr":"(datum.value - 1) % 3 == 0 ? toString(datum.value) : ''","labelAngle":-90,"labelFontSize":28,"labelColor":"#000","labelOverlap":false,"labelFlush":false,"labelPadding":16,"tickSize":10,"tickColor":"#303030","tickWidth":1.5,"domainColor":"#404040","domainWidth":1.5,"grid":false,"title":"Ct","titleFontSize":28,"titleFontWeight":"bold","titleColor":"#000","titleBaseline":"middle","titleY":832}},
"y":{"field":"v","type":"quantitative","scale":{"type":"log","domain":[0.00001,1],"nice":false},
"axis":{"orient":"left","values":[1,0.1,0.01,0.001,0.0001,0.00001],"labelExpr":"'1,00E' + (datum.value >= 1 ? '+' : '-') + '0' + abs(round(log(datum.value) / LN10))","labelFontSize":26,"labelColor":"#000","labelPadding":17,"tickSize":9,"tickColor":"#303030","tickWidth":1.5,"domainColor":"#202020","domainWidth":1.5,"grid":false,"title":"dRn","titleFontSize":29,"titleFontWeight":"bold","titleColor":"#000","titleBaseline":"middle","titleX":-153.6}},
"color":{"field":"s","type":"nominal","scale":{"domain":[1,2,3,4,5,6,7,8,9,10,11,12,13,14,15,16,17,18,19,20,21,22,23,24,25,26,27,28],"range":["#000080","#FF00FF","#FFFF00","#00FFFF","#800080","#800000","#008080","#0000FF","#00CCFF","#66FFFF","#CCFFCC","#FFFF99","#99CCFF","#CC99CC","#CC99FF","#E3E3E3","#3366FF","#33CCCC","#339933","#999933","#996633","#996666","#666699","#969696","#3333CC","#336666","#003300","#333300"]},
"legend":{"orient":"none","legendX":761,"legendY":-195,"direction":"vertical","title":null,"symbolType":"stroke","symbolSize":4356,"symbolStrokeWidth":3,"symbolOffset":1,"clipHeight":30,"rowPadding":15.3,"padding":14,"labelOffset":10,"labelFontSize":29,"labelColor":"#000","labelExpr":"datum.label + '.SYBR'","strokeColor":"#000","labelLimit":300}}
}},
{"mark":{"type":"point","opacity":0},
"encoding":{
"x":{"field":"c","type":"quantitative","axis":{"orient":"top","offset":-194.6,"values":[1,2,3,4,5,6,7,8,9,10,11,12,13,14,15,16,17,18,19,20,21,22,23,24,25,26,27,28,29,30,31,32,33,34,35,36,37,38,39,40],"labels":false,"domain":false,"tickSize":9,"tickColor":"#303030","tickWidth":1.5,"grid":false,"title":null}},
"y":{"field":"v","type":"quantitative","axis":{"orient":"right","offset":-734,"values":[1,0.1,0.01,0.001,0.0001,0.00001],"labels":false,"domain":false,"tickSize":9,"tickColor":"#303030","tickWidth":1.5,"grid":false,"title":null}}
}}
],
"resolve":{"axis":{"x":"independent","y":"independent"}}
}
],
"spacing":8,
"resolve":{"legend":{"color":"independent"}},
"config":{
"font":"Liberation Sans",
"view":{"fill":"#C0C0C0","stroke":"#808080","strokeWidth":2},
"axis":{"labelFont":"Liberation Sans","titleFont":"Liberation Sans"},
"legend":{"labelFont":"Liberation Sans"},
"title":{"font":"Liberation Sans"}
}
}
